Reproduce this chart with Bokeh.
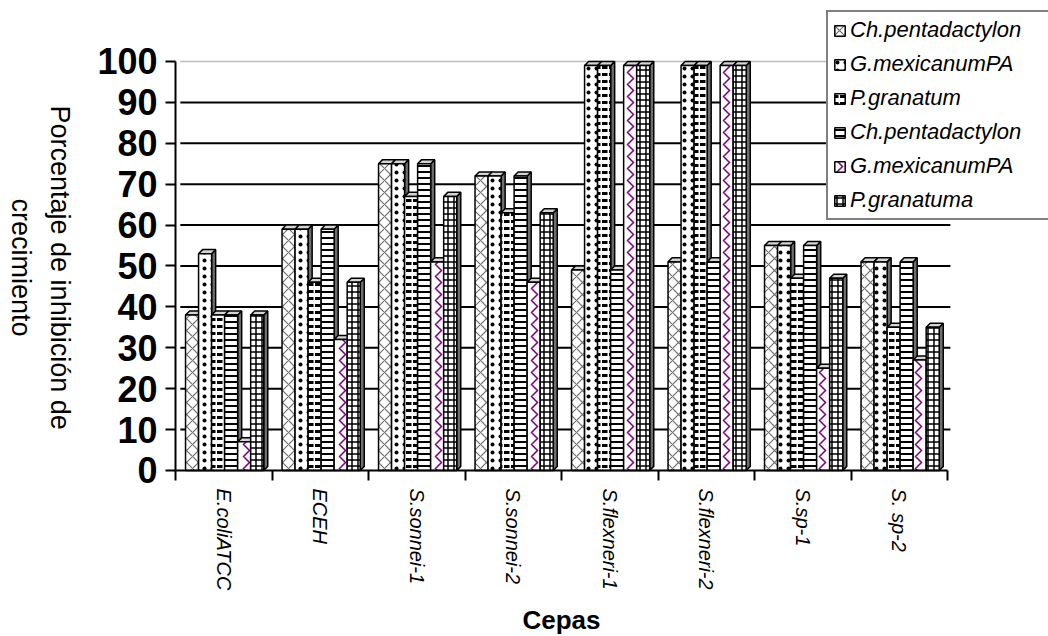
import math
import numpy as np
from bokeh.plotting import figure
from bokeh.models import Range1d, FixedTicker, Legend, LegendItem
from bokeh.core.properties import value
from bokeh.embed import file_html
from bokeh.resources import INLINE

# Strains on the category axis
cepas = ["E.coliATCC", "ECEH", "S.sonnei-1", "S.sonnei-2",
         "S.flexneri-1", "S.flexneri-2", "S.sp-1", "S. sp-2"]

# Legend entries (one per extract)
leyenda = ["Ch.pentadactylon", "G.mexicanumPA", "P.granatum",
           "Ch.pentadactylon", "G.mexicanumPA", "P.granatuma"]

# Growth inhibition (%) per extract and strain
ch_penta_a = [39, 60, 76, 73, 50, 52, 56, 52]
g_mex_a = [54, 60, 76, 73, 100, 100, 56, 52]
p_gran_a = [39, 47, 68, 64, 100, 100, 48, 36]
ch_penta_b = [39, 60, 76, 73, 50, 52, 56, 52]
g_mex_b = [8, 33, 52, 47, 100, 100, 26, 28]
p_gran_b = [39, 47, 68, 64, 100, 100, 48, 36]

series = [ch_penta_a, g_mex_a, p_gran_a, ch_penta_b, g_mex_b, p_gran_b]

y_ticks = list(range(0, 101, 10))
grid_levels = list(range(10, 100, 10))

FONT = "Liberation Sans"

# the frame covers the whole canvas; axes are pinned with fixed_location
p = figure(width=1048, height=636, output_backend="svg", toolbar_location=None,
           x_range=Range1d(-2.3135, 8.5466), y_range=Range1d(-40.59, 114.91),
           min_border=0)
p.outline_line_color = None
p.background_fill_color = "white"
p.border_fill_color = "white"
p.xgrid.visible = False
p.ygrid.visible = False

# back-wall grid lines
wall_x0, wall_x1 = -0.45, 7.53
p.segment(x0=wall_x0, x1=wall_x1, y0=grid_levels, y1=grid_levels,
          line_color="black", line_width=2)
p.segment(x0=[wall_x0], x1=[wall_x1], y0=[100], y1=[100],
          line_color="#bdbdbd", line_width=1.5)

# fill patterns per series
styles = [
    dict(hatch_pattern="diagonal_cross", hatch_scale=12, hatch_color="#6f6f6f", hatch_weight=1.2),
    dict(hatch_pattern="dot", hatch_scale=8, hatch_color="black", hatch_weight=0.5),
    dict(hatch_pattern="horizontal_dash", hatch_scale=7, hatch_color="black", hatch_weight=3),
    dict(hatch_pattern="horizontal_line", hatch_scale=6, hatch_color="black", hatch_weight=2),
    dict(hatch_pattern="vertical_wave", hatch_scale=12, hatch_color="#800080", hatch_weight=1.5),
    dict(hatch_pattern="cross", hatch_scale=6, hatch_color="black", hatch_weight=1.5),
]

# 3-D column geometry (data units)
bar_w = 0.135
lead = 0.104
dx = 0.042
dy = 1.0
cx = np.arange(len(cepas))

legend_items = []
for j, vals in enumerate(series):
    v = np.array(vals, dtype=float)
    left = cx - 0.5 + lead + j * bar_w
    right = left + bar_w
    front_top = v - dy
    side_xs = [[r, r + dx, r + dx, r] for r in right]
    side_ys = [[0, dy, t + dy, t] for t in front_top]
    top_xs = [[l, r, r + dx, l + dx] for l, r in zip(left, right)]
    top_ys = [[t, t, t + dy, t + dy] for t in front_top]
    p.patches(side_xs, side_ys, fill_color="#6e6e6e", line_color="black", line_width=1.5)
    p.patches(top_xs, top_ys, fill_color="#d4d4d4", line_color="black", line_width=1.5)
    front = p.quad(left=left, right=right, bottom=0, top=front_top,
                   fill_color="white", line_color="black", line_width=1.5, **styles[j])
    legend_items.append(LegendItem(label=leyenda[j], renderers=[front]))

legend = Legend(items=legend_items, location=(826, 416),
                glyph_width=13, glyph_height=13, label_height=26, spacing=8,
                padding=5, margin=0, label_standoff=4, label_width=260,
                label_text_font=FONT, label_text_font_size="22px",
                label_text_font_style="italic", label_text_color="black",
                border_line_color="black", border_line_width=2,
                background_fill_color="white", background_fill_alpha=1.0)
p.add_layout(legend)

# value-axis title, reading top to bottom
p.text(x=[-1.9], y=[49.6], text=["Porcentaje de inhibición de\ncrecimiento"],
       angle=-math.pi / 2, text_align="center", text_baseline="middle",
       text_font=value(FONT), text_font_size="27px", text_line_height=1.3,
       text_color="black")

# value axis
yax = p.yaxis[0]
yax.fixed_location = -0.5
yax.ticker = FixedTicker(ticks=y_ticks)
yax.bounds = (0, 100)
yax.axis_line_width = 2
yax.axis_line_color = "black"
yax.major_tick_line_width = 2
yax.major_tick_in = 0
yax.major_tick_out = 10
yax.minor_tick_line_color = None
yax.major_label_text_font = FONT
yax.major_label_text_font_size = "36px"
yax.major_label_text_font_style = "bold"
yax.major_label_text_color = "black"
yax.major_label_standoff = 8

# category axis: labels at centres, tick marks at boundaries
xax = p.xaxis[0]
xax.fixed_location = 0
xax.ticker = FixedTicker(ticks=list(range(len(cepas))),
                         minor_ticks=[i - 0.5 for i in range(len(cepas) + 1)])
xax.major_label_overrides = {i: name for i, name in enumerate(cepas)}
xax.bounds = (-0.5, len(cepas) - 0.5)
xax.axis_line_width = 2
xax.axis_line_color = "black"
xax.major_tick_line_color = None
xax.major_tick_in = 0
xax.major_tick_out = 10
xax.minor_tick_in = 0
xax.minor_tick_out = 10
xax.minor_tick_line_color = "black"
xax.minor_tick_line_width = 2
xax.major_label_orientation = -math.pi / 2
xax.major_label_text_font = FONT
xax.major_label_text_font_size = "20px"
xax.major_label_text_font_style = "italic"
xax.major_label_text_color = "black"
xax.major_label_standoff = 8
xax.axis_label = "Cepas"
xax.axis_label_text_font = FONT
xax.axis_label_text_font_size = "26px"
xax.axis_label_text_font_style = "bold"
xax.axis_label_text_color = "black"
xax.axis_label_standoff = 12

open("out.html", "w").write(file_html(p, INLINE))
